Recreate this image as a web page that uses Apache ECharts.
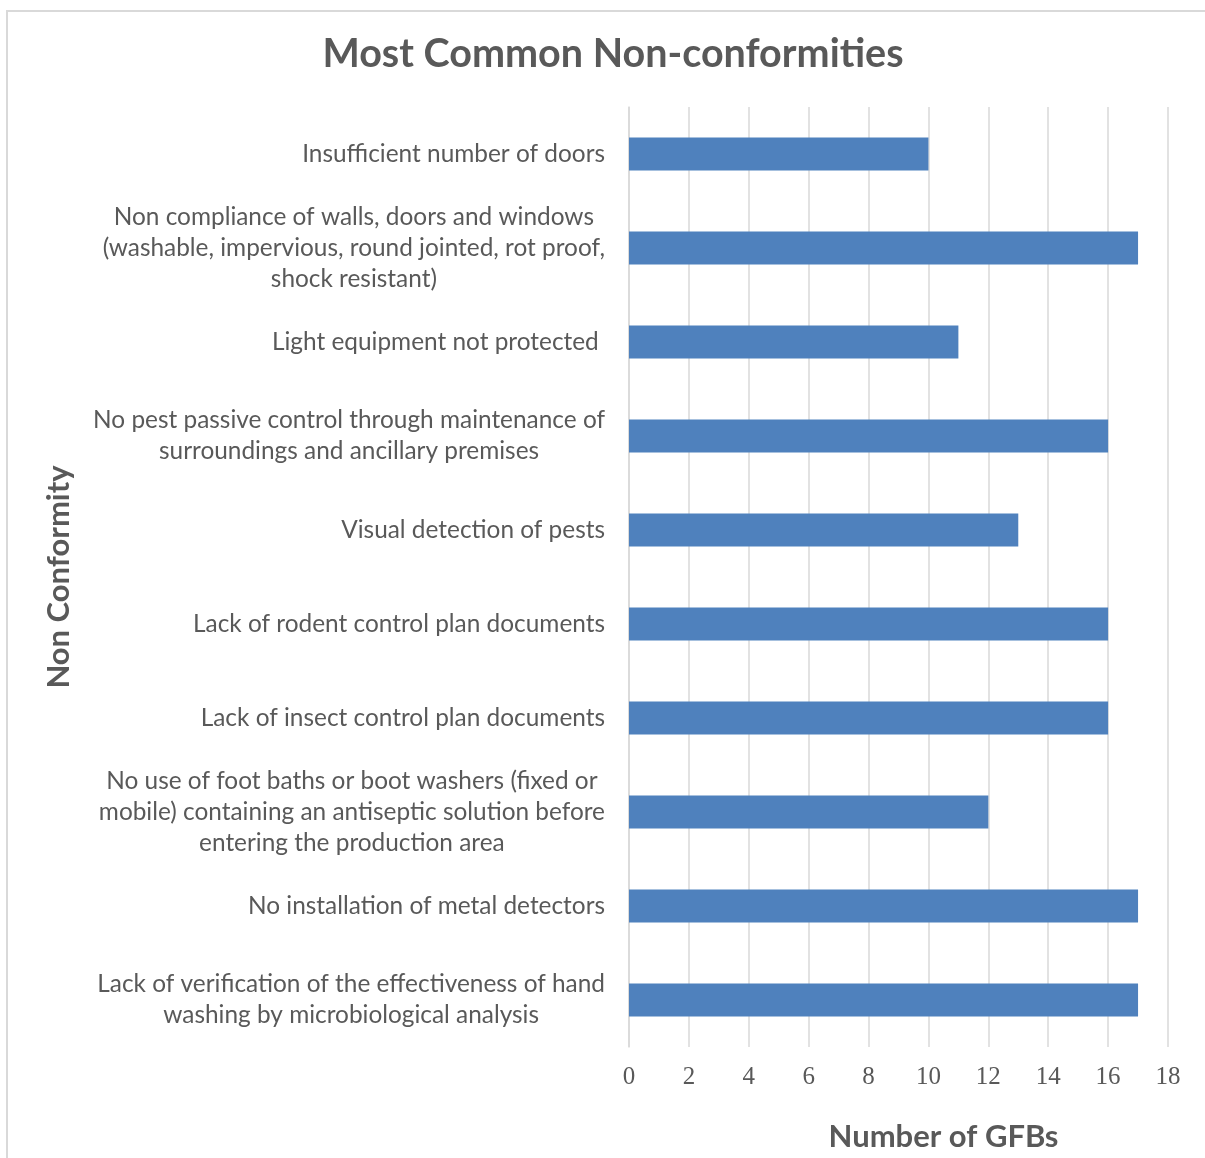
<!DOCTYPE html>
<html>
<head>
<meta charset="utf-8">
<script src="https://cdn.jsdelivr.net/npm/echarts@6/dist/echarts.min.js"></script>
<style>
html,body{margin:0;padding:0;background:#fff;}
#chart{width:1205px;height:1158px;}
</style>
</head>
<body>
<div id="chart"></div>
<script>
const categories = [
  "Insufficient number of doors",
  "Non compliance of walls, doors and windows\n(washable, impervious, round jointed, rot proof,\nshock resistant)",
  "Light equipment not protected ",
  "No pest passive control through maintenance of\nsurroundings and ancillary premises",
  "Visual detection of pests",
  "Lack of rodent control plan documents",
  "Lack of insect control plan documents",
  "No use of foot baths or boot washers (fixed or\nmobile) containing an antiseptic solution before\nentering the production area",
  "No installation of metal detectors",
  "Lack of verification of the effectiveness of hand\nwashing by microbiological analysis"
];
const values = [10, 17, 11, 16, 13, 16, 16, 12, 17, 17];
const titleText = "Most Common Non-conformities";
const xAxisName = "Number of GFBs";
const yAxisName = "Non Conformity";

const textColor = '#595959';
const labelFont = 'Lato, "Open Sans", sans-serif';

const chart = echarts.init(document.getElementById('chart'));
chart.setOption({
  backgroundColor: '#fff',
  animation: false,
  graphic: [{
    type: 'rect',
    shape: {x: 7, y: 11, width: 1400, height: 1400},
    style: {fill: 'none', stroke: '#d9d9d9', lineWidth: 2},
    silent: true
  }],
  title: {
    text: titleText,
    left: 608,
    textAlign: 'center',
    top: 29,
    textStyle: {fontFamily: labelFont, fontSize: 39.5, fontWeight: 'bold', color: textColor}
  },
  grid: {left: 629, right: 37, top: 107, bottom: 111, containLabel: false},
  xAxis: {
    type: 'value',
    min: 0, max: 18, interval: 2,
    name: xAxisName,
    nameLocation: 'middle',
    nameGap: 74,
    nameTextStyle: {fontFamily: labelFont, fontSize: 31, fontWeight: 'bold', color: textColor, padding: [0, 0, 0, 90]},
    axisLine: {show: false},
    axisTick: {show: false},
    axisLabel: {fontFamily: '"Liberation Serif", serif', fontSize: 25, color: textColor, margin: 18},
    splitLine: {show: true, lineStyle: {color: '#d9d9d9', width: 1.5}}
  },
  yAxis: {
    type: 'category',
    inverse: true,
    data: categories,
    name: yAxisName,
    nameLocation: 'middle',
    nameGap: 555,
    nameRotate: 90,
    nameTextStyle: {fontFamily: labelFont, fontSize: 31, fontWeight: 'bold', color: textColor},
    axisLine: {show: true, lineStyle: {color: '#d9d9d9', width: 1.5}},
    axisTick: {show: false},
    axisLabel: {
      margin: 24,
      formatter: function (v) {
        return v.split('\n').map(function (l) { return '{c|' + l + '}'; }).join('\n');
      },
      rich: {
        c: {align: 'center', fontFamily: labelFont, fontSize: 24.4, color: textColor, lineHeight: 31}
      }
    }
  },
  series: [{
    type: 'bar',
    data: values,
    barWidth: 33,
    itemStyle: {color: '#4f81bd'}
  }]
});
</script>
</body>
</html>
